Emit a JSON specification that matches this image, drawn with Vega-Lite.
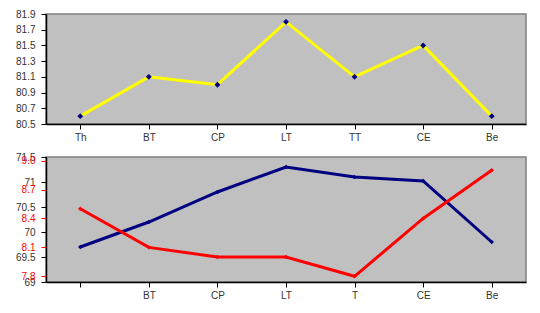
{
  "$schema": "https://vega.github.io/schema/vega-lite/v6.json",
  "background": "white",
  "padding": {"left": 14, "top": 8, "right": 5, "bottom": 0},
  "spacing": 8,
  "config": {
    "view": {"fill": "#C0C0C0", "stroke": "#808080", "strokeWidth": 1.5},
    "axis": {
      "labelFont": "Liberation Sans", "labelFontSize": 10, "labelColor": "#333333",
      "domainColor": "#000000", "domainWidth": 1.5, "tickColor": "#000000",
      "tickSize": 5, "grid": false, "title": null, "labelPadding": 6
    }
  },
  "vconcat": [
    {
      "width": 480, "height": 110,
      "data": {"values": [
        {"cat": "Th", "v": 80.6}, {"cat": "BT", "v": 81.1}, {"cat": "CP", "v": 81.0},
        {"cat": "LT", "v": 81.8}, {"cat": "TT", "v": 81.1}, {"cat": "CE", "v": 81.5},
        {"cat": "Be", "v": 80.6}
      ]},
      "mark": {"type": "line", "color": "#FFFF00", "strokeWidth": 3,
               "point": {"shape": "diamond", "filled": true, "size": 35, "color": "#000080"}},
      "encoding": {
        "x": {"field": "cat", "type": "nominal", "sort": null,
              "scale": {"paddingInner": 0, "paddingOuter": 0},
              "axis": {"labelAngle": 0, "bandPosition": 0, "labelPadding": 3}},
        "y": {"field": "v", "type": "quantitative",
              "scale": {"domain": [80.5, 81.9], "nice": false, "zero": false},
              "axis": {"values": [80.5, 80.7, 80.9, 81.1, 81.3, 81.5, 81.7, 81.9], "format": ".1f"}}
      }
    },
    {
      "width": 480, "height": 125,
      "data": {"values": [
        {"cat": " ", "blue": 69.7, "red": 8.5}, {"cat": "BT", "blue": 70.2, "red": 8.1},
        {"cat": "CP", "blue": 70.8, "red": 8.0}, {"cat": "LT", "blue": 71.3, "red": 8.0},
        {"cat": "T", "blue": 71.1, "red": 7.8}, {"cat": "CE", "blue": 71.02, "red": 8.4},
        {"cat": "Be", "blue": 69.8, "red": 8.9}
      ]},
      "encoding": {
        "x": {"field": "cat", "type": "nominal", "sort": null,
              "scale": {"paddingInner": 0, "paddingOuter": 0},
              "axis": {"labelAngle": 0, "bandPosition": 0, "labelPadding": 3}}
      },
      "layer": [
        {
          "mark": {"type": "line", "color": "#000080", "strokeWidth": 3,
                   "point": {"shape": "diamond", "filled": true, "size": 20, "color": "#000080"}},
          "encoding": {
            "y": {"field": "blue", "type": "quantitative",
                  "scale": {"domain": [69, 71.5], "nice": false, "zero": false},
                  "axis": {"values": [69, 69.5, 70, 70.5, 71, 71.5], "format": "~g", "orient": "left"}}
          }
        },
        {
          "mark": {"type": "line", "color": "#FF0000", "strokeWidth": 3,
                   "point": {"shape": "diamond", "filled": true, "size": 20, "color": "#FF0000"}},
          "encoding": {
            "y": {"field": "red", "type": "quantitative",
                  "scale": {"domain": [7.741, 9.037], "nice": false, "zero": false},
                  "axis": {"values": [7.8, 8.1, 8.4, 8.7, 9.0], "format": ".1f", "orient": "left",
                           "labelColor": "#FF0000", "tickColor": "#FF0000", "domain": false}}
          }
        }
      ],
      "resolve": {"scale": {"y": "independent"}, "axis": {"y": "independent"}}
    }
  ]
}
